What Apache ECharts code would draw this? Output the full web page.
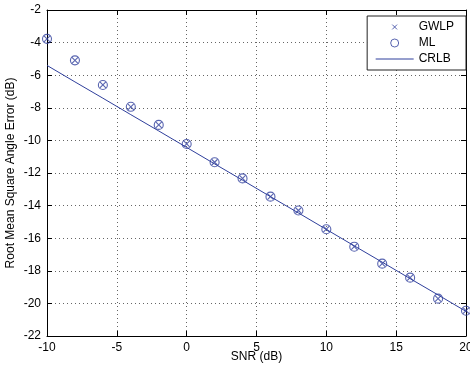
<!DOCTYPE html>
<html><head><meta charset="utf-8">
<script src="https://cdn.jsdelivr.net/npm/echarts@6/dist/echarts.min.js"></script>
<style>html,body{margin:0;padding:0;background:#fff}#c{width:470px;height:368px}</style>
</head><body><div id="c"></div>
<script>
const snr = [-10, -8, -6, -4, -2, 0, 2, 4, 6, 8, 10, 12, 14, 16, 18, 20];
const gwlp = [-3.77, -5.09, -6.60, -7.94, -9.05, -10.22, -11.34, -12.33, -13.45, -14.30, -15.45, -16.52, -17.56, -18.42, -19.71, -20.45];
const ml = [-3.77, -5.09, -6.60, -7.94, -9.05, -10.22, -11.34, -12.33, -13.45, -14.30, -15.45, -16.52, -17.56, -18.42, -19.71, -20.45];
const crlb = [-5.40, -6.41, -7.41, -8.42, -9.42, -10.43, -11.44, -12.44, -13.45, -14.45, -15.46, -16.47, -17.47, -18.48, -19.48, -20.49];
const xTicks = [-10, -5, 0, 5, 10, 15, 20];
const yTicks = [-22, -20, -18, -16, -14, -12, -10, -8, -6, -4, -2];

const blue = '#2f3f9c';
const font = 'Liberation Sans, Arial, Helvetica, sans-serif';
const zip = (xs, ys) => xs.map((x, i) => [x, ys[i]]);
const chart = echarts.init(document.getElementById('c'), null, {renderer: 'canvas'});
const tickStyle = {inside: true, length: 5, lineStyle: {color: '#000', width: 1}};
const grid = {type: [1, 3], color: '#666', width: 1};
const xPath = 'path://M0,0L0,0M2,2L8,8M8,2L2,8M10,10L10,10';
chart.setOption({
  animation: false,
  backgroundColor: '#fff',
  textStyle: {fontFamily: font},
  grid: {left: 47, right: 4, top: 10, bottom: 32, containLabel: false, outerBoundsMode: 'none'},
  legend: {
    orient: 'vertical', right: 4, top: 16,
    backgroundColor: '#fff', borderColor: '#222', borderWidth: 1,
    padding: [5, 12, 5, 8], itemGap: 4, itemWidth: 38, itemHeight: 8,
    textStyle: {fontFamily: font, fontSize: 12, color: '#000'},
    data: [
      {name: 'GWLP', icon: xPath, itemStyle: {color: 'rgba(0,0,0,0)', borderColor: blue, borderWidth: 1}},
      {name: 'ML', icon: 'circle', itemStyle: {color: 'rgba(0,0,0,0)', borderColor: blue, borderWidth: 1}},
      {name: 'CRLB', itemStyle: {color: 'rgba(0,0,0,0)', borderColor: 'rgba(0,0,0,0)', borderWidth: 0}, lineStyle: {color: blue, width: 1}}
    ]
  },
  xAxis: [{
    type: 'value', min: xTicks[0], max: xTicks[xTicks.length - 1], interval: 5,
    name: 'SNR (dB)', nameLocation: 'middle', nameGap: 15, nameMoveOverlap: false,
    nameTextStyle: {fontFamily: font, fontSize: 12, color: '#000', verticalAlign: 'top'},
    axisLine: {onZero: false, lineStyle: {color: '#000', width: 1}},
    axisTick: tickStyle,
    axisLabel: {fontFamily: font, fontSize: 12, color: '#000', margin: 6},
    splitLine: {show: true, lineStyle: grid}
  }, {
    type: 'value', position: 'top', min: xTicks[0], max: xTicks[xTicks.length - 1], interval: 5,
    axisLine: {onZero: false, lineStyle: {color: '#000', width: 1}},
    axisTick: tickStyle, axisLabel: {show: false}, splitLine: {show: false}
  }],
  yAxis: [{
    type: 'value', min: yTicks[0], max: yTicks[yTicks.length - 1], interval: 2,
    name: 'Root Mean Square Angle Error (dB)', nameLocation: 'middle', nameGap: 30, nameMoveOverlap: false,
    nameTextStyle: {fontFamily: font, fontSize: 12, color: '#000'},
    axisLine: {onZero: false, lineStyle: {color: '#000', width: 1}},
    axisTick: tickStyle,
    axisLabel: {fontFamily: font, fontSize: 12, color: '#000', margin: 6},
    splitLine: {show: true, lineStyle: grid}
  }, {
    type: 'value', position: 'right', min: yTicks[0], max: yTicks[yTicks.length - 1], interval: 2,
    axisLine: {onZero: false, lineStyle: {color: '#000', width: 1}},
    axisTick: tickStyle, axisLabel: {show: false}, splitLine: {show: false}
  }],
  series: [{
    name: 'CRLB', type: 'line', data: zip(snr, crlb), symbol: 'none',
    lineStyle: {color: blue, width: 1}, itemStyle: {color: blue}, z: 2
  }, {
    name: 'ML', type: 'scatter', data: zip(snr, ml), symbol: 'circle', symbolSize: 9,
    itemStyle: {color: 'rgba(0,0,0,0)', borderColor: blue, borderWidth: 1.1}, z: 3
  }, {
    name: 'GWLP', type: 'scatter', data: zip(snr, gwlp),
    symbol: 'path://M0,0L10,10M10,0L0,10', symbolSize: 6,
    itemStyle: {color: 'rgba(0,0,0,0)', borderColor: blue, borderWidth: 1.1}, z: 4
  }]
});
</script></body></html>
